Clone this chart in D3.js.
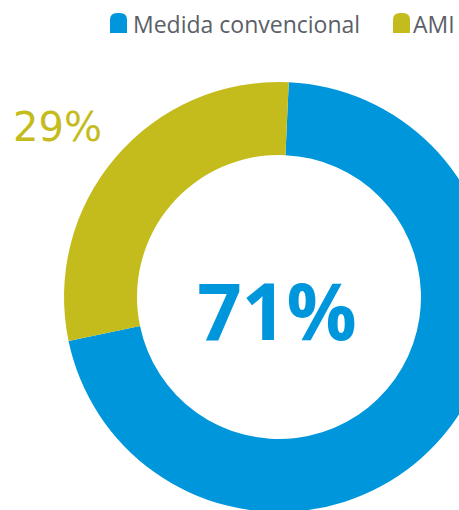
<!DOCTYPE html>
<html>
<head>
<meta charset="utf-8">
<script src="https://cdn.jsdelivr.net/npm/d3@7"></script>
<style>
  html, body { margin: 0; padding: 0; background: #ffffff; }
  svg { display: block; }
</style>
</head>
<body>
<svg id="chart" width="459" height="510"></svg>
<script>
// Share of readings by metering type
const categories = ["Medida convencional", "AMI"];
const values = [71, 29];
const colors = ["#0096DC", "#C4BC1C"];
const valueLabels = ["71%", "29%"];

const width = 459, height = 510;
const cx = 279, cy = 297;
const outerR = 215, innerR = 142;

const svg = d3.select("#chart");

const color = d3.scaleOrdinal().domain(categories).range(colors);

// Rotate the ring so the AMI slice sits on the upper-left side
const offset = 2.6 * Math.PI / 180;
const pie = d3.pie()
  .sort(null)
  .value(d => d.value)
  .startAngle(offset)
  .endAngle(offset + 2 * Math.PI);

const data = categories.map((c, i) => ({ name: c, value: values[i], label: valueLabels[i] }));

const arc = d3.arc().innerRadius(innerR).outerRadius(outerR);

const g = svg.append("g").attr("transform", `translate(${cx},${cy})`);

g.selectAll("path")
  .data(pie(data))
  .join("path")
  .attr("d", arc)
  .attr("fill", d => color(d.data.name));

// Main share in the centre
g.append("text")
  .attr("x", -2)
  .attr("y", 43)
  .attr("text-anchor", "middle")
  .attr("font-family", "'Open Sans', sans-serif")
  .attr("font-weight", 700)
  .attr("font-size", 78)
  .attr("fill", colors[0])
  .text(valueLabels[0]);

// Secondary share outside the ring
svg.append("text")
  .attr("x", 13)
  .attr("y", 141)
  .attr("font-family", "'DejaVu Sans', sans-serif")
  .attr("font-weight", 400)
  .attr("font-size", 40)
  .attr("fill", colors[1])
  .text(valueLabels[1]);

// Legend
const legendItems = [
  { name: categories[0], x: 110, tx: 133 },
  { name: categories[1], x: 393, tx: 413 }
];
const lg = svg.append("g");
legendItems.forEach(it => {
  const w = 17, h = 20, top = 13, r = 7;
  lg.append("path")
    .attr("d", `M${it.x},${top + h} L${it.x},${top + r} Q${it.x},${top} ${it.x + r},${top} L${it.x + w - r},${top} Q${it.x + w},${top} ${it.x + w},${top + r} L${it.x + w},${top + h} Z`)
    .attr("fill", color(it.name));
  lg.append("text")
    .attr("x", it.tx)
    .attr("y", 33)
    .attr("font-family", "'Open Sans', sans-serif")
    .attr("font-size", 23)
    .attr("fill", "#5b6068")
    .text(it.name);
});
</script>
</body>
</html>
